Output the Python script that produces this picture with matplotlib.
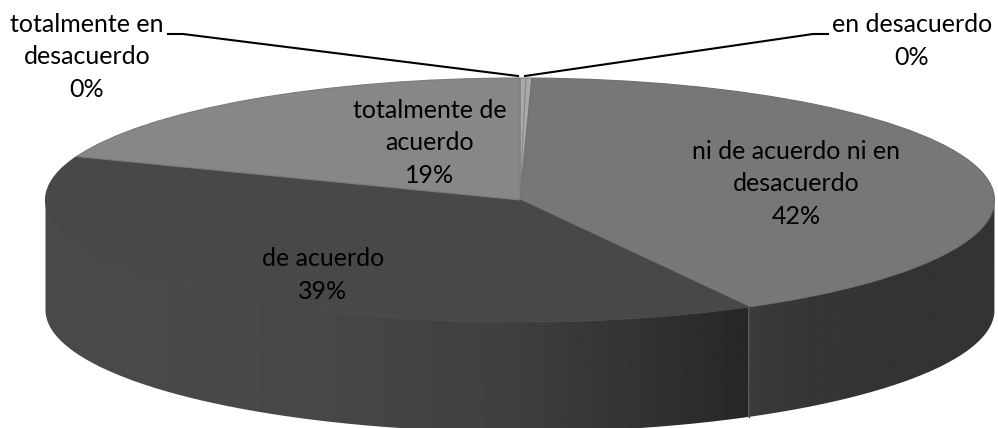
import numpy as np
import matplotlib
matplotlib.use("Agg")
import matplotlib.pyplot as plt
from matplotlib.patches import PathPatch
from matplotlib.path import Path

plt.rcParams['font.family'] = ['Lato', 'DejaVu Sans']

labels = ["totalmente en\ndesacuerdo\n0%", "en desacuerdo\n0%",
          "ni de acuerdo ni en\ndesacuerdo\n42%", "de acuerdo\n39%",
          "totalmente de\nacuerdo\n19%"]
values = [0.2, 0.2, 41.6, 38.8, 19.2]
top_colors = ["#aaaaaa", "#aaaaaa", "#777777", "#484848", "#878787"]
edge_colors = ["#8a8a8a", "#8a8a8a", "#6e6e6e", "#484848", "#7a7a7a"]

W, H = 998, 428
CX, CY, RX, RY, DEPTH = 520.0, 200.0, 474.5, 122.0, 110.0

def ux(px): return (px - CX) / RX
def uy(py): return (CY - py) / RY

fig = plt.figure(figsize=(W / 100, H / 100), dpi=100)
ax = fig.add_axes([0, 0, 1, 1])
wedges, _ = ax.pie(values, colors=top_colors, startangle=90, counterclock=False,
                   radius=1.0, wedgeprops=dict(linewidth=0.8, zorder=3))
for w, e in zip(wedges, edge_colors):
    w.set_edgecolor(e)
ax.set_aspect('auto')
ax.axis('off')

# side walls
d = DEPTH / RY
shares = np.cumsum(values) / np.sum(values)
boundary = 90 - 360 * shares[2]            # ni / de acuerdo edge, degrees

def wall(t0, t1, stops):
    t = np.radians(np.linspace(t0, t1, 300))
    x, y = np.cos(t), np.sin(t)
    verts = np.r_[np.c_[x, y], np.c_[x[::-1], y[::-1] - d], [[x[0], y[0]]]]
    clip = PathPatch(Path(verts), transform=ax.transData, fc='none', ec='none')
    ax.add_patch(clip)
    xs = np.linspace(x.min() - 0.01, x.max() + 0.01, 400)
    px = xs * RX + CX
    g = np.interp(px, [s[0] for s in stops], [s[1] for s in stops])
    im = ax.imshow(g[None, :], cmap='gray', vmin=0, vmax=255, aspect='auto',
                   extent=(xs[0], xs[-1], uy(440), uy(190)), zorder=1,
                   interpolation='bilinear')
    im.set_clip_path(clip)

wall(-180, boundary, [(45, 0x4a), (330, 0x47), (500, 0x40), (640, 0x33), (748, 0x27)])
wall(boundary, 0, [(748, 0x3b), (800, 0x36), (900, 0x33), (995, 0x33)])
bx, by = np.cos(np.radians(boundary)), np.sin(np.radians(boundary))
ax.plot([bx, bx], [by, by - d], color='#444444', lw=1.0, zorder=2)
ax.set_xlim(ux(0), ux(W))
ax.set_ylim(uy(H), uy(0))

# leader lines
ax.plot(ux(np.array([168, 183, 518])), uy(np.array([34, 34, 76])), color='black',
        lw=1.5, zorder=5, solid_joinstyle='round')
ax.plot(ux(np.array([525, 813, 828])), uy(np.array([76, 34, 34])), color='black',
        lw=1.5, zorder=5, solid_joinstyle='round')

# labels
pos = [(87, 57), (912, 41), (796, 184), (323, 275), (430, 143)]
for lab, (px, py) in zip(labels, pos):
    ax.text(ux(px), uy(py), lab, ha='center', va='center', fontsize=18,
            color='black', linespacing=1.5, zorder=6)

fig.savefig("out.png", dpi=100)
